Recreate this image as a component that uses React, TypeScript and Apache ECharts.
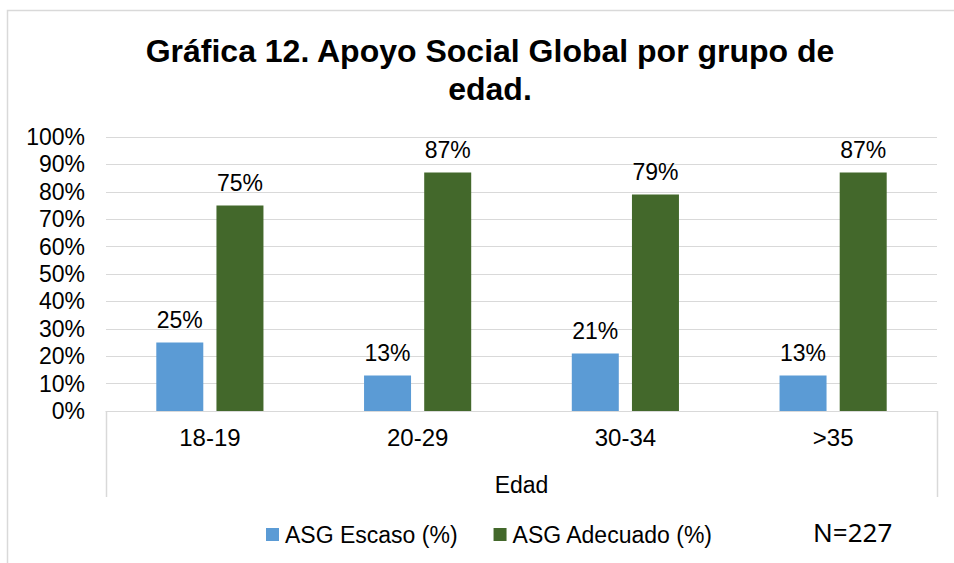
import React, { useEffect, useRef } from "react";
import * as echarts from "echarts";

const categories = ["18-19", "20-29", "30-34", ">35"];
const escaso = [25, 13, 21, 13];
const adecuado = [75, 87, 79, 87];
const seriesNames = ["ASG Escaso (%)", "ASG Adecuado (%)"];
const titleText = "Gráfica 12. Apoyo Social Global por grupo de\nedad.";
const axisName = "Edad";
const noteText = "N=227";

const FONT = "'Liberation Sans', Arial, sans-serif";
const GRID = "#D9D9D9";

export default function App() {
  const ref = useRef<HTMLDivElement>(null);
  useEffect(() => {
    document.body.style.margin = "0";
    if (!ref.current) return;
    const chart = echarts.init(ref.current, undefined, { renderer: "svg" });
    const labelStyle = {
      show: true,
      position: "top",
      distance: 11,
      formatter: "{c}%",
      color: "#000",
      fontSize: 23,
      fontFamily: FONT,
    };
    chart.setOption({
      animation: false,
      backgroundColor: "#fff",
      title: {
        text: titleText,
        left: 485,
        top: 27,
        textAlign: "center",
        textStyle: {
          fontSize: 32,
          fontWeight: "bold",
          fontFamily: FONT,
          color: "#000",
          lineHeight: 38,
        },
      },
      grid: { left: 106, right: 17, top: 137, bottom: 152, containLabel: false },
      legend: {
        data: seriesNames,
        left: 261,
        top: 518,
        itemWidth: 13,
        itemHeight: 13,
        itemGap: 36,
        icon: "rect",
        textStyle: { fontSize: 23, fontFamily: FONT, color: "#000", padding: [0, 0, 0, 1] },
      },
      xAxis: {
        type: "category",
        data: categories,
        axisLine: { show: true, lineStyle: { color: GRID, width: 1 } },
        axisTick: { show: false },
        axisLabel: { fontSize: 24, fontFamily: FONT, color: "#000", margin: 14 },
        name: axisName,
        nameLocation: "middle",
        nameGap: 62,
        nameTextStyle: { fontSize: 23, fontFamily: FONT, color: "#000" },
      },
      yAxis: {
        type: "value",
        min: 0,
        max: 100,
        interval: 10,
        axisLine: { show: false },
        axisTick: { show: false },
        axisLabel: { formatter: "{value}%", fontSize: 23, fontFamily: FONT, color: "#000", margin: 21 },
        splitLine: { lineStyle: { color: GRID, width: 1 } },
      },
      graphic: [
        {
          type: "rect",
          shape: { x: 7.5, y: 10.5, width: 1000, height: 1000 },
          style: { fill: "none", stroke: GRID, lineWidth: 1.5 },
          silent: true,
        },
        {
          type: "line",
          shape: { x1: 106.5, y1: 411, x2: 106.5, y2: 497 },
          style: { stroke: GRID, lineWidth: 1.5 },
        },
        {
          type: "line",
          shape: { x1: 937.5, y1: 411, x2: 937.5, y2: 497 },
          style: { stroke: GRID, lineWidth: 1.5 },
        },
        {
          type: "text",
          left: 813,
          top: 519,
          style: { text: noteText, fontSize: 26, fontFamily: "'Noto Sans', 'Open Sans', sans-serif", fill: "#000" },
        },
      ],
      series: [
        {
          name: seriesNames[0],
          type: "bar",
          data: escaso,
          barWidth: 47,
          barGap: "28%",
          itemStyle: { color: "#5B9BD5" },
          label: labelStyle,
        },
        {
          name: seriesNames[1],
          type: "bar",
          data: adecuado,
          barWidth: 47,
          barGap: "28%",
          itemStyle: { color: "#43682B" },
          label: labelStyle,
        },
      ],
    });
    return () => chart.dispose();
  }, []);
  return <div ref={ref} style={{ width: 954, height: 563 }} />;
}
